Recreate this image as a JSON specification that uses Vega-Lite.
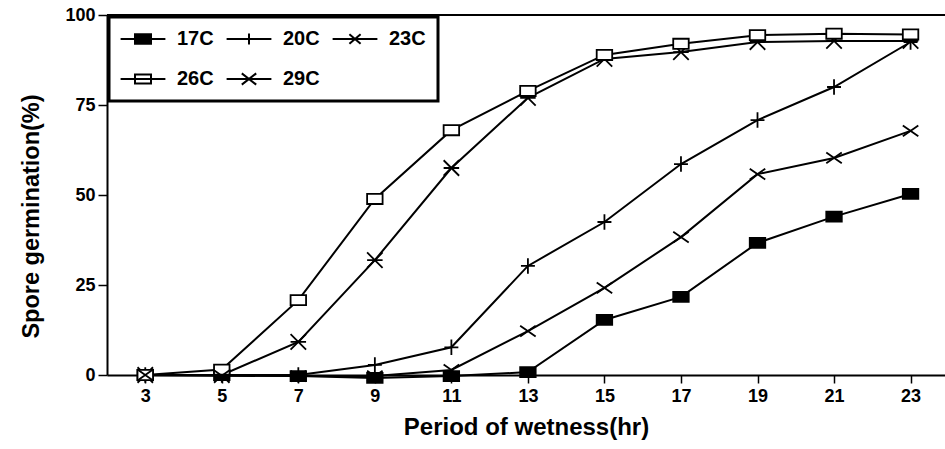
{
  "$schema": "https://vega.github.io/schema/vega-lite/v6.json",
  "width": 838,
  "height": 360,
  "autosize": {"type": "none"},
  "padding": {"left": 107, "top": 15, "right": 0, "bottom": 74},
  "background": "white",
  "config": {
    "view": {"stroke": null},
    "font": "Liberation Sans",
    "axis": {"domainColor": "black", "tickColor": "black", "labelColor": "black", "titleColor": "black", "grid": false, "labelFont": "Liberation Sans", "titleFont": "Liberation Sans", "titleFontWeight": "bold", "labelFontWeight": "bold", "domainWidth": 2, "tickWidth": 1.5},
    "legend": {"strokeWidth": 3}
  },
  "data": {"values": [
    {"hr": 3, "temp": "17C", "pct": 0}, {"hr": 5, "temp": "17C", "pct": 0}, {"hr": 7, "temp": "17C", "pct": -0.3}, {"hr": 9, "temp": "17C", "pct": -0.8}, {"hr": 11, "temp": "17C", "pct": -0.3}, {"hr": 13, "temp": "17C", "pct": 0.8}, {"hr": 15, "temp": "17C", "pct": 15.3}, {"hr": 17, "temp": "17C", "pct": 21.7}, {"hr": 19, "temp": "17C", "pct": 36.7}, {"hr": 21, "temp": "17C", "pct": 44}, {"hr": 23, "temp": "17C", "pct": 50.3},
    {"hr": 3, "temp": "20C", "pct": 0}, {"hr": 5, "temp": "20C", "pct": 0}, {"hr": 7, "temp": "20C", "pct": 0}, {"hr": 9, "temp": "20C", "pct": 2.8}, {"hr": 11, "temp": "20C", "pct": 7.7}, {"hr": 13, "temp": "20C", "pct": 30.3}, {"hr": 15, "temp": "20C", "pct": 42.5}, {"hr": 17, "temp": "20C", "pct": 58.6}, {"hr": 19, "temp": "20C", "pct": 70.8}, {"hr": 21, "temp": "20C", "pct": 80}, {"hr": 23, "temp": "20C", "pct": 92.5},
    {"hr": 3, "temp": "23C", "pct": 0}, {"hr": 5, "temp": "23C", "pct": 0}, {"hr": 7, "temp": "23C", "pct": 9.2}, {"hr": 9, "temp": "23C", "pct": 31.9}, {"hr": 11, "temp": "23C", "pct": 57.5}, {"hr": 13, "temp": "23C", "pct": 77}, {"hr": 15, "temp": "23C", "pct": 87.8}, {"hr": 17, "temp": "23C", "pct": 89.7}, {"hr": 19, "temp": "23C", "pct": 92.5}, {"hr": 21, "temp": "23C", "pct": 92.8}, {"hr": 23, "temp": "23C", "pct": 92.8},
    {"hr": 3, "temp": "26C", "pct": 0}, {"hr": 5, "temp": "26C", "pct": 1.5}, {"hr": 7, "temp": "26C", "pct": 20.8}, {"hr": 9, "temp": "26C", "pct": 48.9}, {"hr": 11, "temp": "26C", "pct": 68}, {"hr": 13, "temp": "26C", "pct": 78.9}, {"hr": 15, "temp": "26C", "pct": 88.9}, {"hr": 17, "temp": "26C", "pct": 92}, {"hr": 19, "temp": "26C", "pct": 94.4}, {"hr": 21, "temp": "26C", "pct": 94.8}, {"hr": 23, "temp": "26C", "pct": 94.6},
    {"hr": 3, "temp": "29C", "pct": 0}, {"hr": 5, "temp": "29C", "pct": -0.2}, {"hr": 7, "temp": "29C", "pct": -0.3}, {"hr": 9, "temp": "29C", "pct": -0.3}, {"hr": 11, "temp": "29C", "pct": 1.4}, {"hr": 13, "temp": "29C", "pct": 12.2}, {"hr": 15, "temp": "29C", "pct": 24.2}, {"hr": 17, "temp": "29C", "pct": 38.3}, {"hr": 19, "temp": "29C", "pct": 55.8}, {"hr": 21, "temp": "29C", "pct": 60.3}, {"hr": 23, "temp": "29C", "pct": 67.8}
  ]},
  "resolve": {"scale": {"shape": "independent"}, "legend": {"shape": "independent"}},
  "layer": [
    {"mark": {"type": "line", "color": "black", "strokeWidth": 2},
      "encoding": {
        "x": {"field": "hr", "type": "quantitative", "scale": {"domain": [2, 23.9], "nice": false, "zero": false},
          "axis": {"values": [3, 5, 7, 9, 11, 13, 15, 17, 19, 21, 23], "title": "Period of wetness(hr)", "titleFontSize": 24, "labelFontSize": 18, "tickSize": 8, "labelPadding": 4, "titlePadding": 10}},
        "y": {"field": "pct", "type": "quantitative", "scale": {"domain": [0, 100], "nice": false},
          "axis": {"values": [0, 25, 50, 75, 100], "title": "Spore germination(%)", "titleFontSize": 23.5, "labelFontSize": 18, "tickSize": 9, "labelPadding": 3, "titleX": -76, "titleY": 201, "titleAngle": -90, "titleAlign": "center", "titleBaseline": "middle"}},
        "detail": {"field": "temp"}}},
    {"mark": {"type": "rule", "color": "black", "strokeWidth": 2}, "encoding": {"y": {"datum": 100}}},
    {"mark": {"type": "point", "size": 240, "opacity": 1, "stroke": "black", "strokeWidth": 1.8},
      "encoding": {
        "x": {"field": "hr", "type": "quantitative"},
        "y": {"field": "pct", "type": "quantitative"},
        "shape": {"field": "temp", "type": "nominal",
          "scale": {"domain": ["17C", "20C", "23C", "26C", "29C"],
            "range": ["M-1,-0.65H1V0.65H-1Z", "M-0.9,0H0.9M0,-1V1", "M-1,-1L1,1M-1,1L1,-1M-1,0H1", "M-1,-0.65H1V0.65H-1Z", "M-1,-0.7L1,0.7M-1,0.7L1,-0.7"]},
          "legend": null},
        "fill": {"field": "temp", "type": "nominal", "scale": {"domain": ["17C", "20C", "23C", "26C", "29C"], "range": ["black", "white", "white", "white", "white"]}, "legend": null}
      }},
    {"transform": [{"filter": "datum.hr > 1000"}],
      "mark": {"type": "point", "size": 256, "opacity": 1, "filled": false, "stroke": "black", "strokeWidth": 2},
      "encoding": {
        "x": {"field": "hr", "type": "quantitative"},
        "y": {"field": "pct", "type": "quantitative"},
        "shape": {"field": "temp", "type": "nominal",
          "scale": {"domain": ["17C", "20C", "23C", "26C", "29C"],
            "range": [
              "M-2.8,0H2.8M-1,-0.6H1V0.6H-1ZM-1,-0.45H1M-1,-0.3H1M-1,-0.15H1M-1,0.15H1M-1,0.3H1M-1,0.45H1",
              "M-2.8,0H2.8M0,-0.7V0.7",
              "M-2.8,0H2.8M-0.7,-0.6L0.7,0.6M-0.7,0.6L0.7,-0.6",
              "M-2.8,0H2.8M-1,-0.55H1V0.55H-1Z",
              "M-2.8,0H2.8M-0.9,-0.7L0.9,0.7M-0.9,0.7L0.9,-0.7"]},
          "legend": {"title": null, "orient": "top-left", "offset": 2, "columns": 3, "direction": "horizontal", "gridAlign": "all",
            "strokeColor": "black", "fillColor": "white", "padding": 12,
            "labelFontSize": 20, "labelFont": "Liberation Sans", "labelFontWeight": "bold", "labelColor": "black",
            "symbolOffset": 12, "labelOffset": 24, "columnPadding": 8, "rowPadding": 20,
            "symbolSize": 256, "symbolStrokeWidth": 2, "symbolStrokeColor": "black", "symbolOpacity": 1}}
      }}
  ]
}
